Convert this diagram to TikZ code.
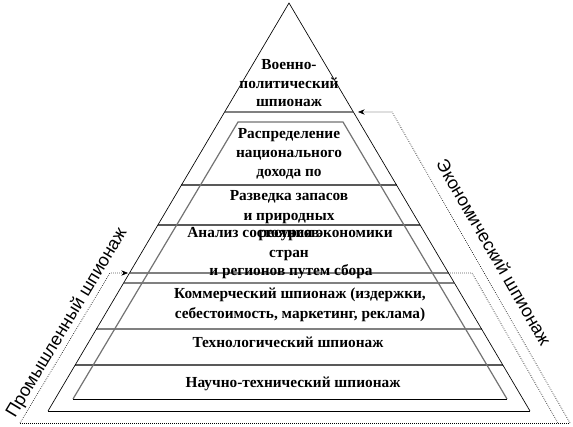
\documentclass[tikz,border=0pt]{standalone}
\usepackage{fontspec}
\setmainfont{Liberation Serif}
\newfontfamily\labelsans{Liberation Sans}
\usetikzlibrary{arrows.meta,calc}
\begin{document}
\begin{tikzpicture}[x=0.75pt,y=-0.75pt,
  tier/.style={font=\fontsize{11.5}{14}\selectfont\bfseries, inner sep=0pt, anchor=base},
  sidelabel/.style={font=\fontsize{13.5}{16}\selectfont\labelsans, inner sep=0pt},
  outerline/.style={draw=black, line width=0.5pt},
  innerline/.style={draw=black!55, line width=0.9pt},
  divider/.style={draw=black!50, line width=1pt},
  darkdivider/.style={draw=black!65, line width=0.9pt},
  bracket/.style={draw=black, line width=0.5pt, densely dotted},
  tip/.style={-{Stealth[length=5pt,width=4pt]}}
]
\useasboundingbox (0,0) rectangle (573,427);
\fill[white] (0,0) rectangle (573,427);

% outer triangle
\coordinate (apex) at (289,3);
\coordinate (obl) at (48,411);
\coordinate (obr) at (530,411);
% inner trapezoid
\coordinate (itl) at (238,122);
\coordinate (itr) at (343,122);
\coordinate (ibl) at (73,399);
\coordinate (ibr) at (507,399);

% dividers spanning the outer triangle
\foreach \t in {0.2672,0.6618,0.6863,0.7990}
  \draw[divider] ($(apex)!\t!(obl)$) -- ($(apex)!\t!(obr)$);
\foreach \t in {0.4461,0.5441,0.8873}
  \draw[darkdivider] ($(apex)!\t!(obl)$) -- ($(apex)!\t!(obr)$);

\draw[innerline] (ibl) -- (itl) -- (itr) -- (ibr);
\draw[draw=black, line width=0.7pt] (ibl) -- (ibr);
\draw[outerline] (obl) -- (apex) -- (obr);
\draw[draw=black, line width=0.7pt] (obl) -- (obr);

% brackets
\coordinate (eB) at (570,423);
\coordinate (eA) at (392,112);
\coordinate (eTip) at (358,112);
\coordinate (iR0) at (450,273);
\coordinate (iR1) at (472,273);
\coordinate (iR2) at (558,423);
\coordinate (iL0) at (20,423);
\coordinate (iL1) at (110,273);
\coordinate (iTip) at (128,273);
\draw[bracket] (iL0) -- (eB);
\draw[bracket,tip] (eB) -- (eA) -- (eTip);
\draw[bracket] (iR0) -- (iR1) -- (iR2);
\draw[bracket,tip] (iL0) -- (iL1) -- (iTip);

% tier texts
\node[tier] (t1a) at (289,70) {Военно-};
\node[tier] (t1b) at (289,89) {политический};
\node[tier] (t1c) at (289,107) {шпионаж};
\node[tier] (t2a) at (289,139) {Распределение};
\node[tier] (t2b) at (289,158) {национального};
\node[tier] (t2c) at (289,177) {дохода по};
\node[tier] (t3a) at (289,201) {Разведка запасов};
\node[tier] (t3b) at (289,220) {и природных};
\node[tier] (t3c) at (289,238) {ресурсов};
\node[tier] (t4a) at (290,238) {Анализ состояния экономики};
\node[tier] (t4b) at (289,257) {стран};
\node[tier] (t4c) at (291,275) {и регионов путем сбора};
\node[tier] (t5a) at (300,298) {Коммерческий шпионаж (издержки,};
\node[tier] (t5b) at (300,318) {себестоимость, маркетинг, реклама)};
\node[tier] (t6) at (288,347) {Технологический шпионаж};
\node[tier] (t7) at (293,387) {Научно-технический шпионаж};

% side labels
\node[sidelabel, rotate=59] (ind) at (67,323) {Промышленный шпионаж};
\node[sidelabel, rotate=-60] (eco) at (494,252) {Экономический шпионаж};
\end{tikzpicture}
\end{document}
